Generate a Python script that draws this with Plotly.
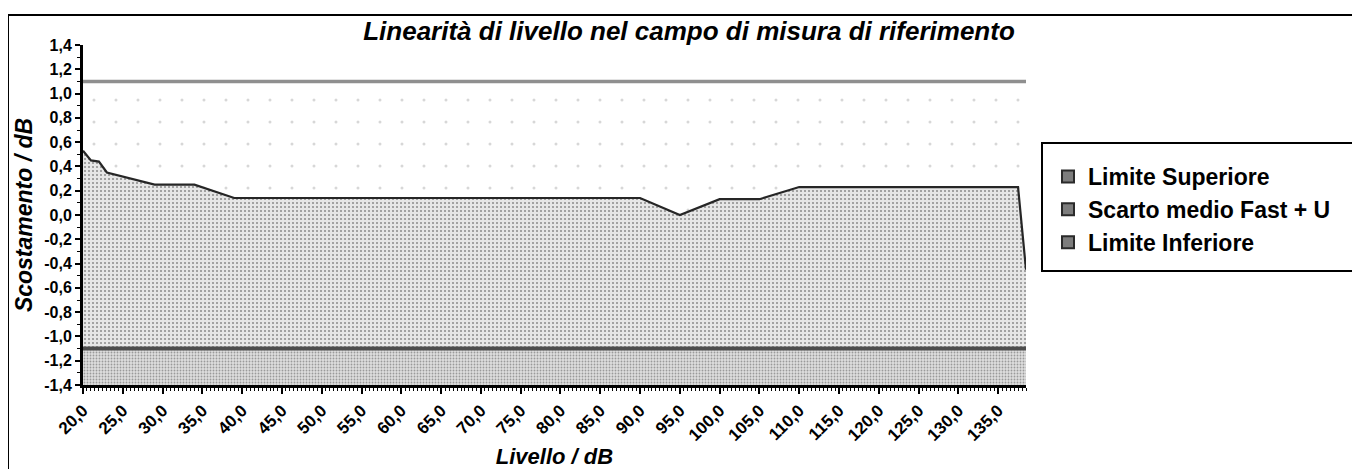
import plotly.graph_objects as go

# ---- data ----
livello = [20, 21, 22, 23, 29, 34, 39, 90, 95, 100, 105, 110, 137.5, 138.5]
scarto_medio = [0.53, 0.45, 0.44, 0.35, 0.25, 0.25, 0.14, 0.14, 0.0, 0.13, 0.13, 0.23, 0.23, -0.45]
livello_limiti = [20, 138.5]
limite_superiore = [1.1, 1.1]
limite_inferiore = [-1.1, -1.1]

x_tickvals = [20 + 5 * i for i in range(24)]
x_ticktext = ["20,0", "25,0", "30,0", "35,0", "40,0", "45,0", "50,0", "55,0", "60,0", "65,0",
              "70,0", "75,0", "80,0", "85,0", "90,0", "95,0", "100,0", "105,0", "110,0", "115,0",
              "120,0", "125,0", "130,0", "135,0"]
y_tickvals = [1.4, 1.2, 1.0, 0.8, 0.6, 0.4, 0.2, 0.0, -0.2, -0.4, -0.6, -0.8, -1.0, -1.2, -1.4]
y_ticktext = ["1,4", "1,2", "1,0", "0,8", "0,6", "0,4", "0,2", "0,0", "-0,2", "-0,4", "-0,6",
              "-0,8", "-1,0", "-1,2", "-1,4"]
x_range = [20, 138.5]
y_range = [-1.4, 1.4]

series_names = ["Limite Superiore", "Scarto medio Fast + U", "Limite Inferiore"]

FONT = "Liberation Sans, Arial, sans-serif"

# page offset (browser body margin) compensation
OFF = 8
W, H = 1360 - OFF, 469 - OFF
PL, PR, PT, PB = 83 - OFF, 1026 - OFF, 45 - OFF, 385 - OFF  # plot area in div pixels
PW, PH = PR - PL, PB - PT


def px(xpix):  # page x pixel -> paper x
    return (xpix - OFF - PL) / PW


def py(ypix):  # page y pixel -> paper y
    return (PB - (ypix - OFF)) / PH


fig = go.Figure()


def base(xs):
    fig.add_trace(go.Scatter(x=xs, y=[y_range[0]] * len(xs), mode="lines",
                             line=dict(width=0, color="rgba(0,0,0,0)"),
                             showlegend=False, hoverinfo="skip"))


# Limite superiore area
base(livello_limiti)
fig.add_trace(go.Scatter(x=livello_limiti, y=limite_superiore, mode="lines", fill="tonexty",
                         fillpattern=dict(shape=".", fgcolor="#b0b0b0", bgcolor="white",
                                          size=22, solidity=0.015),
                         line=dict(color="#8f8f8f", width=3.5), showlegend=False))
# Scarto medio area
base(livello)
fig.add_trace(go.Scatter(x=livello, y=scarto_medio, mode="lines", fill="tonexty",
                         fillpattern=dict(shape=".", fgcolor="#3a3a3a", bgcolor="#e6e6e6",
                                          size=4, solidity=0.22),
                         line=dict(color="#262626", width=2.2), showlegend=False))
# Limite inferiore area
base(livello_limiti)
fig.add_trace(go.Scatter(x=livello_limiti, y=limite_inferiore, mode="lines", fill="tonexty",
                         fillpattern=dict(shape=".", fgcolor="#555555", bgcolor="#dedede",
                                          size=3, solidity=0.3),
                         line=dict(color="#4d4d4d", width=4), showlegend=False))

# legend entries
for name in series_names:
    fig.add_trace(go.Scatter(x=[None], y=[None], mode="markers", name=name,
                             marker=dict(symbol="square", size=13, color="#7d7d7d",
                                         line=dict(color="#2a2a2a", width=1.5))))

fig.update_layout(
    width=W, height=H,
    margin=dict(l=PL, r=W - PR, t=PT, b=H - PB, autoexpand=False),
    paper_bgcolor="white", plot_bgcolor="white",
    font=dict(family=FONT, color="black"),
    title=dict(text="<b><i>Linearità di livello nel campo di misura di riferimento</i></b>",
               x=(689 - OFF) / W, xanchor="center", xref="container",
               y=1 - (31 - OFF) / H, yanchor="middle", yref="container",
               font=dict(family=FONT, size=26, color="black")),
    showlegend=True,
    legend=dict(x=px(1048), y=py(155), xanchor="left", yanchor="top",
                traceorder="normal",
                bgcolor="rgba(0,0,0,0)", borderwidth=0,
                font=dict(family=FONT, size=23, color="black", weight="bold"),
                itemsizing="constant"),
    xaxis=dict(range=x_range, tickmode="array", tickvals=x_tickvals, ticktext=x_ticktext,
               tickangle=-45, ticks="outside", ticklen=6, tickwidth=1.5, tickcolor="black",
               showline=True, linecolor="black", linewidth=3, showgrid=False, zeroline=False,
               automargin=False,
               tickfont=dict(family=FONT, size=17, color="black", weight="bold"),
               minor=dict(tickmode="linear", tick0=20, dtick=0.5, ticks="outside",
                          ticklen=3, tickcolor="black", tickwidth=1),
               title=dict(text="<b><i>Livello / dB</i></b>", standoff=24,
                          font=dict(family=FONT, size=22, color="black"))),
    yaxis=dict(range=y_range, tickmode="array", tickvals=y_tickvals, ticktext=y_ticktext,
               ticks="outside", ticklen=5, tickwidth=1.5, tickcolor="black",
               showline=True, linecolor="black", linewidth=3, showgrid=False, zeroline=False,
               automargin=False,
               tickfont=dict(family=FONT, size=16, color="black", weight="bold"),
               minor=dict(tickmode="linear", tick0=-1.4, dtick=0.1, ticks="outside",
                          ticklen=3, tickcolor="black", tickwidth=1),
               title=dict(text="<b><i>Scostamento / dB</i></b>", standoff=6,
                          font=dict(family=FONT, size=23, color="black"))),
    shapes=[
        # outer chart frame
        dict(type="rect", xref="paper", yref="paper",
             x0=px(8), x1=px(1380), y0=py(500), y1=py(15),
             line=dict(color="black", width=2), fillcolor="rgba(0,0,0,0)", layer="below"),
        # legend box
        dict(type="rect", xref="paper", yref="paper",
             x0=px(1042), x1=px(1356), y0=py(271), y1=py(143),
             line=dict(color="black", width=2), fillcolor="white", layer="below"),
    ],
)

fig.write_html("out.html")
